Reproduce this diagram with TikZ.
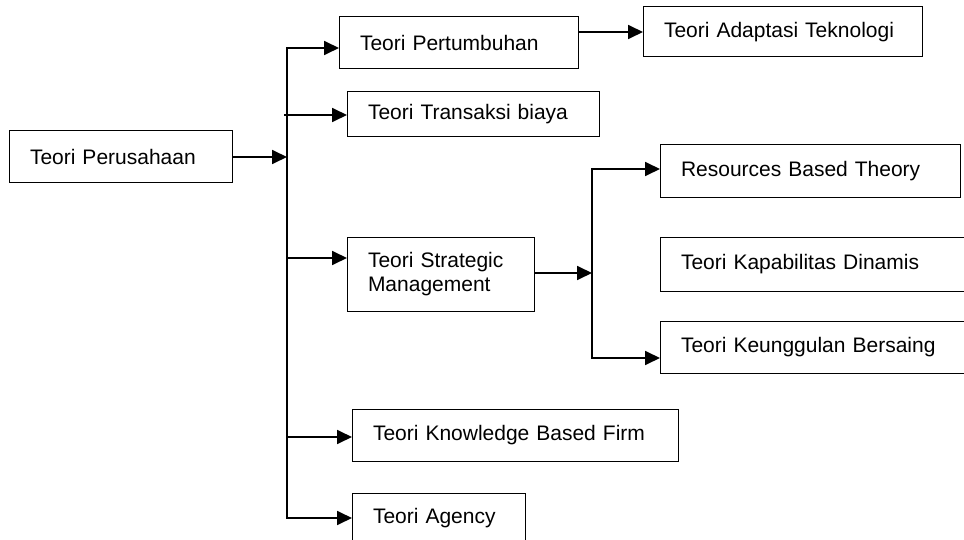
\documentclass[tikz,border=0pt]{standalone}
\usepackage{fontspec}
\setmainfont{Liberation Sans}
\usetikzlibrary{arrows.meta}
\tikzset{
  kotak/.style={draw, line width=1pt, anchor=north west, align=left, outer sep=0pt,
    inner xsep=21pt, inner ysep=0pt, font=\fontsize{21}{24}\selectfont},
  garis/.style={line width=1.8pt, line cap=rect},
  panah/.style={line width=1.8pt, -{Triangle[length=15pt,width=14pt]}},
}
\begin{document}
\begin{tikzpicture}[x=1pt,y=-1pt]
\useasboundingbox (0,0) rectangle (964,540);

\node[kotak, text width=181pt, minimum height=52pt] (per) at (9,131) {Teori Perusahaan};
\node[kotak, text width=197pt, minimum height=52pt] (pert) at (339,17) {Teori Pertumbuhan};
\node[kotak, text width=237pt, minimum height=50pt] (adap) at (643,7) {Teori Adaptasi Teknologi};
\node[kotak, text width=210pt, minimum height=45pt] (trans) at (347,92) {Teori Transaksi biaya};
\node[kotak, text width=145pt, minimum height=73pt] (strat) at (347,238) {Teori Strategic\\Management};
\node[kotak, text width=258pt, minimum height=53pt] (res) at (660,145) {Resources Based Theory};
\node[kotak, text width=295pt, minimum height=53pt] (kap) at (660,238) {Teori Kapabilitas Dinamis};
\node[kotak, text width=295pt, minimum height=52pt] (keu) at (660,321) {Teori Keunggulan Bersaing};
\node[kotak, text width=284pt, minimum height=52pt] (know) at (352,409) {Teori Knowledge Based Firm};
\node[kotak, text width=131pt, minimum height=50pt] (agen) at (352,493) {Teori Agency};

% batang utama
\coordinate (t0) at (287,48);
\coordinate (t1) at (284,115);
\coordinate (t2) at (287,258);
\coordinate (t3) at (287,437);
\coordinate (t4) at (287,518);
\draw[garis] (t0) -- (t4);
\draw[panah] (per.east) -- (per.east -| t0);
\draw[panah] (t0) -- (t0 -| pert.west);
\draw[panah] (t1) -- (t1 -| trans.west);
\draw[panah] (t2) -- (t2 -| strat.west);
\draw[panah] (t3) -- (t3 -| know.west);
\draw[panah] (t4) -- (t4 -| agen.west);
\draw[panah] (adap.west -| pert.east) -- (adap.west);

% cabang strategic management
\coordinate (c0) at (592,169);
\coordinate (s0) at (592,273);
\coordinate (c1) at (592,358);
\draw[garis] (c0) -- (c1);
\draw[panah] (s0 -| strat.east) -- (s0);
\draw[panah] (c0) -- (c0 -| res.west);
\draw[panah] (c1) -- (c1 -| keu.west);
\end{tikzpicture}
\end{document}
